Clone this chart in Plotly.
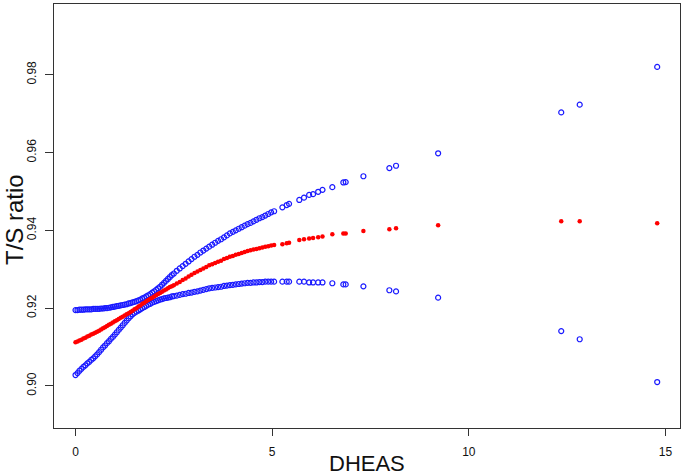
import plotly.graph_objects as go

# DHEAS values (x)
dheas = [0.00, 0.05, 0.10, 0.15, 0.20, 0.25, 0.30, 0.35, 0.40, 0.45, 0.50, 0.55, 0.60, 0.65,
         0.70, 0.75, 0.80, 0.85, 0.90, 0.95, 1.00, 1.05, 1.10, 1.15, 1.20, 1.25, 1.30, 1.35,
         1.40, 1.45, 1.50, 1.55, 1.60, 1.65, 1.70, 1.75, 1.80, 1.85, 1.90, 1.95, 2.00, 2.05,
         2.10, 2.15, 2.20, 2.25, 2.30, 2.35, 2.40, 2.45, 2.50,
         2.575, 2.65, 2.725, 2.80, 2.875, 2.95, 3.025, 3.10, 3.175, 3.25, 3.325, 3.40, 3.475,
         3.55, 3.625, 3.70, 3.775, 3.85, 3.925, 4.00, 4.075, 4.15, 4.225, 4.30, 4.375, 4.45,
         4.525, 4.60, 4.675, 4.75, 4.825, 4.90, 4.975, 5.05,
         5.26, 5.37, 5.43, 5.69, 5.81, 5.94, 6.04, 6.17, 6.28, 6.53, 6.81, 6.87, 7.32, 7.98,
         8.15, 9.22, 12.35, 12.82, 14.79]

# fitted T/S ratio (red)
ts_fit = [.9112, .9114, .9117, .9119, .9122, .9124, .9127, .9129, .9132, .9134, .9137, .9139,
          .9142, .9145, .9148, .9151, .9154, .9157, .9160, .9163, .9166, .9169, .9172, .9175,
          .9178, .9181, .9184, .9187, .9190, .9193, .9197, .9200, .9204, .9207, .9211, .9214,
          .9218, .9221, .9224, .9227, .9230, .9233, .9236, .9239, .9242, .9245, .9248, .9251,
          .9254, .9256, .9259,
          .9263, .9267, .9272, .9276, .9281, .9286, .9290, .9294, .9298, .9302, .9306, .9310,
          .9313, .9316, .9319, .9322, .9326, .9329, .9332, .9334, .9337, .9339, .9342, .9344,
          .9347, .9349, .9351, .9352, .9354, .9356, .9358, .9359, .9361, .9362,
          .9364, .9367, .9368, .9375, .9377, .9379, .9380, .9382, .9384, .9390, .9392, .9392,
          .9398, .9403, .9405, .9413, .9423, .9423, .9418]

# upper confidence bound (blue)
ts_upper = [.9195, .9195, .9196, .9196, .9196, .9197, .9197, .9197, .9197, .9198, .9198, .9198,
            .9198, .9199, .9199, .9200, .9200, .9201, .9202, .9203, .9204, .9205, .9206, .9207,
            .9208, .9209, .9210, .9212, .9213, .9215, .9216, .9218, .9220, .9222, .9225, .9227,
            .9230, .9233, .9236, .9240, .9243, .9247, .9251, .9255, .9260, .9265, .9270, .9275,
            .9280, .9285, .9289,
            .9296, .9302, .9308, .9314, .9320, .9326, .9332, .9337, .9343, .9348, .9353, .9358,
            .9363, .9368, .9373, .9377, .9382, .9387, .9392, .9396, .9400, .9404, .9408, .9412,
            .9416, .9419, .9423, .9427, .9431, .9434, .9438, .9442, .9446, .9449,
            .9459, .9465, .9468, .9478, .9484, .9491, .9493, .9499, .9504, .9511, .9523, .9524,
            .9539, .9560, .9566, .9598, .9703, .9723, .9820]

# lower confidence bound (blue)
ts_lower = [.9028, .9033, .9039, .9044, .9049, .9053, .9058, .9062, .9067, .9071, .9076, .9081,
            .9087, .9093, .9099, .9104, .9110, .9115, .9121, .9126, .9132, .9138, .9144, .9150,
            .9156, .9162, .9168, .9174, .9179, .9184, .9188, .9191, .9194, .9197, .9200, .9203,
            .9206, .9209, .9211, .9214, .9216, .9218, .9220, .9222, .9223, .9225, .9226, .9227,
            .9228, .9230, .9231,
            .9232, .9234, .9236, .9237, .9239, .9240, .9242, .9243, .9245, .9247, .9249, .9251,
            .9252, .9253, .9254, .9255, .9257, .9258, .9259, .9260, .9261, .9262, .9263, .9264,
            .9265, .9265, .9266, .9266, .9267, .9267, .9268, .9268, .9268, .9268,
            .9268, .9268, .9268, .9268, .9268, .9266, .9266, .9266, .9266, .9264, .9261, .9261,
            .9256, .9246, .9243, .9227, .9141, .9120, .9010]

x_ticks = [0, 5, 10, 15]
y_ticks = [0.90, 0.92, 0.94, 0.96, 0.98]

blue = "#1a1aff"
red = "#ff0000"

fig = go.Figure()
for ys in (ts_upper, ts_lower):
    fig.add_trace(go.Scatter(
        x=dheas, y=ys, mode="markers",
        marker=dict(symbol="circle-open", size=5, color=blue, line=dict(width=1.2, color=blue)),
        showlegend=False, hoverinfo="skip"))
fig.add_trace(go.Scatter(
    x=dheas, y=ts_fit, mode="markers",
    marker=dict(symbol="circle", size=4.5, color=red, line=dict(width=0)),
    showlegend=False, hoverinfo="skip"))

axis_font = dict(family="Liberation Sans, Arial, sans-serif", size=12, color="#111111")

fig.update_layout(
    width=685, height=476,
    margin=dict(l=54, r=5, t=4, b=48),
    paper_bgcolor="white", plot_bgcolor="white",
    font=axis_font,
    xaxis=dict(range=[-0.547, 15.37], tickvals=x_ticks, ticktext=[str(v) for v in x_ticks],
               showgrid=False, zeroline=False, showline=True, mirror=True,
               linecolor="#333333", linewidth=1.3, ticks="outside", ticklen=7,
               tickcolor="#333333", tickwidth=1.2, tickfont=axis_font, ticklabelstandoff=5),
    yaxis=dict(range=[0.88919, 0.99817], tickvals=y_ticks, ticktext=[f"{v:.2f}" for v in y_ticks],
               tickangle=-90,
               showgrid=False, zeroline=False, showline=True, mirror=True,
               linecolor="#333333", linewidth=1.3, ticks="outside", ticklen=8,
               tickcolor="#333333", tickwidth=1.2, tickfont=axis_font, ticklabelstandoff=4),
    annotations=[
        dict(text="DHEAS", x=0.5, y=0, xref="paper", yref="paper", xanchor="center",
             yanchor="middle", yshift=-35, showarrow=False,
             font=dict(family="Liberation Sans, Arial, sans-serif", size=22, color="#111111")),
        dict(text="T/S ratio", x=0, y=0.5, xref="paper", yref="paper", xanchor="center",
             yanchor="middle", xshift=-40, yshift=-4, textangle=-90, showarrow=False,
             font=dict(family="Liberation Sans, Arial, sans-serif", size=24, color="#111111")),
    ],
)

fig.write_html("out.html", config={"displayModeBar": False},
               post_script="document.body.style.margin='0';document.body.style.overflow='hidden';")
